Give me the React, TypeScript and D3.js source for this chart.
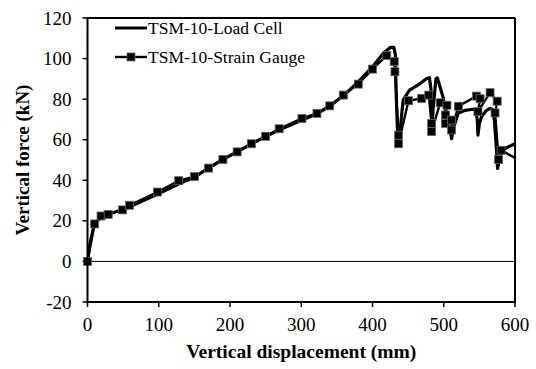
import React from 'react';
import * as d3 from 'd3';

const xTicks = [0, 100, 200, 300, 400, 500, 600];
const yTicks = [-20, 0, 20, 40, 60, 80, 100, 120];

const seriesNames = ['TSM-10-Load Cell', 'TSM-10-Strain Gauge'];

const lcDisp = [0, 3, 8, 14, 22, 40, 60, 100, 130, 150, 170, 190, 210, 230, 250, 270, 300, 320, 340, 360, 380, 400, 415, 425, 430, 432, 433.5, 435.5, 438, 443, 452, 464, 476, 480, 482, 483, 485, 489, 491, 494, 499, 504, 508, 511, 514, 520, 530, 541, 545, 547, 548, 550, 553, 560, 565, 568, 571, 574, 575.5, 578, 582, 600];
const lcForce = [0, 8, 16, 20, 22.5, 24.5, 27, 33.5, 38.5, 41.5, 46, 50.3, 54, 58, 61.5, 65, 69.5, 72.5, 76.5, 82, 88.5, 96, 102.5, 105.5, 105.5, 102, 80, 60, 62, 79.5, 84.5, 87, 90.2, 90.5, 85, 64, 75, 90, 90.5, 87, 81, 72, 66, 60.5, 66, 73, 74.5, 75, 74.5, 70, 62.3, 68, 71.3, 74.5, 75.5, 75, 70, 55, 45.8, 50, 55, 58];

const sgDisp = [0, 10, 19, 29, 49, 59, 98, 128, 150, 170, 190, 210, 230, 250, 269, 301, 322, 340, 359, 380, 400, 420, 430.5, 431.5, 436.5, 436.5, 450.5, 469, 479, 483, 483, 495, 504.5, 502.5, 502.5, 511, 511, 520.5, 546, 551, 548, 565, 575, 572, 577, 580.5, 600];
const sgForce = [0, 18.5, 22.4, 23.2, 25.4, 27.7, 34.2, 39.8, 41.8, 46, 50.3, 54, 58, 61.7, 65.4, 70.5, 73, 76.7, 82, 87.4, 94.8, 101.5, 98.5, 93.5, 62.2, 58, 79.2, 80.4, 82, 68, 64, 78.2, 77, 72.2, 68, 69.7, 64.8, 76.5, 81.5, 80.2, 73.8, 83.2, 79, 73.2, 50.3, 54.8, 51];

const FONT = '"Liberation Serif", "Times New Roman", serif';

export default function App() {
  const W = 536;
  const H = 369;
  const L = 87.5, R = 515, T = 18, B = 302;
  const x = d3.scaleLinear().domain([0, 600]).range([L, R]);
  const y = d3.scaleLinear().domain([-20, 120]).range([B, T]);

  const lc = lcDisp.map((d, i) => [d, lcForce[i]] as [number, number]);
  const sg = sgDisp.map((d, i) => [d, sgForce[i]] as [number, number]);
  const line = d3.line<[number, number]>().x(d => x(d[0])).y(d => y(d[1]));

  const ms = 8;
  const leg1 = 28;
  const leg2 = 57;

  return (
    <svg width={W} height={H} style={{ position: 'absolute', left: 0, top: 0, background: '#fff', fontFamily: FONT }}>
      <defs>
        <clipPath id="plotclip">
          <rect x={L} y={T} width={R - L} height={B - T} />
        </clipPath>
      </defs>
      <rect x={0} y={0} width={W} height={H} fill="#fff" />
      {/* zero line */}
      <line x1={L} x2={R} y1={y(0)} y2={y(0)} stroke="#000" strokeWidth={1} />
      <g clipPath="url(#plotclip)">
        <path d={line(lc) || ''} fill="none" stroke="#000" strokeWidth={3.2} strokeLinejoin="round" strokeLinecap="round" />
        <path d={line(sg) || ''} fill="none" stroke="#000" strokeWidth={2.4} strokeLinejoin="round" />
      </g>
      {sg.filter(d => d[0] < 600).map((d, i) => (
        <rect key={i} x={x(d[0]) - ms / 2} y={y(d[1]) - ms / 2} width={ms} height={ms} fill="#000" stroke="#666" strokeWidth={0.8} />
      ))}
      {/* frame */}
      <line x1={L} x2={R} y1={T} y2={T} stroke="#000" strokeWidth={2} />
      <line x1={R} x2={R} y1={T} y2={B} stroke="#000" strokeWidth={2} />
      <line x1={L} x2={L} y1={T - 1} y2={B + 1} stroke="#000" strokeWidth={2} />
      <line x1={L - 1} x2={R + 1} y1={B} y2={B} stroke="#000" strokeWidth={2} />
      {/* y ticks */}
      {yTicks.map(t => (
        <g key={t}>
          <line x1={L - 5} x2={L} y1={y(t)} y2={y(t)} stroke="#000" strokeWidth={1.5} />
          <text x={L - 16} y={y(t) + 6.5} textAnchor="end" fontSize={19} fontFamily={FONT}>{t}</text>
        </g>
      ))}
      {/* x ticks */}
      {xTicks.map(t => (
        <g key={t}>
          <line x1={x(t)} x2={x(t)} y1={B} y2={B + 5} stroke="#000" strokeWidth={1.5} />
          <text x={x(t)} y={B + 29} textAnchor="middle" fontSize={19} fontFamily={FONT}>{t}</text>
        </g>
      ))}
      <text x={(L + R) / 2} y={358} textAnchor="middle" fontSize={19.5} fontWeight="bold" fontFamily={FONT}>Vertical displacement (mm)</text>
      <text transform={`translate(29, ${(T + B) / 2}) rotate(-90)`} textAnchor="middle" fontSize={19} fontWeight="bold" fontFamily={FONT}>Vertical force (kN)</text>
      {/* legend */}
      <line x1={115} x2={147} y1={leg1} y2={leg1} stroke="#000" strokeWidth={3} />
      <text x={148} y={leg1 + 6} fontSize={17.5} fontFamily={FONT}>{seriesNames[0]}</text>
      <line x1={115} x2={147} y1={leg2} y2={leg2} stroke="#000" strokeWidth={2.4} />
      <rect x={131 - ms / 2} y={leg2 - ms / 2} width={ms} height={ms} fill="#000" stroke="#666" strokeWidth={0.8} />
      <text x={148} y={leg2 + 6} fontSize={17.5} fontFamily={FONT}>{seriesNames[1]}</text>
    </svg>
  );
}
